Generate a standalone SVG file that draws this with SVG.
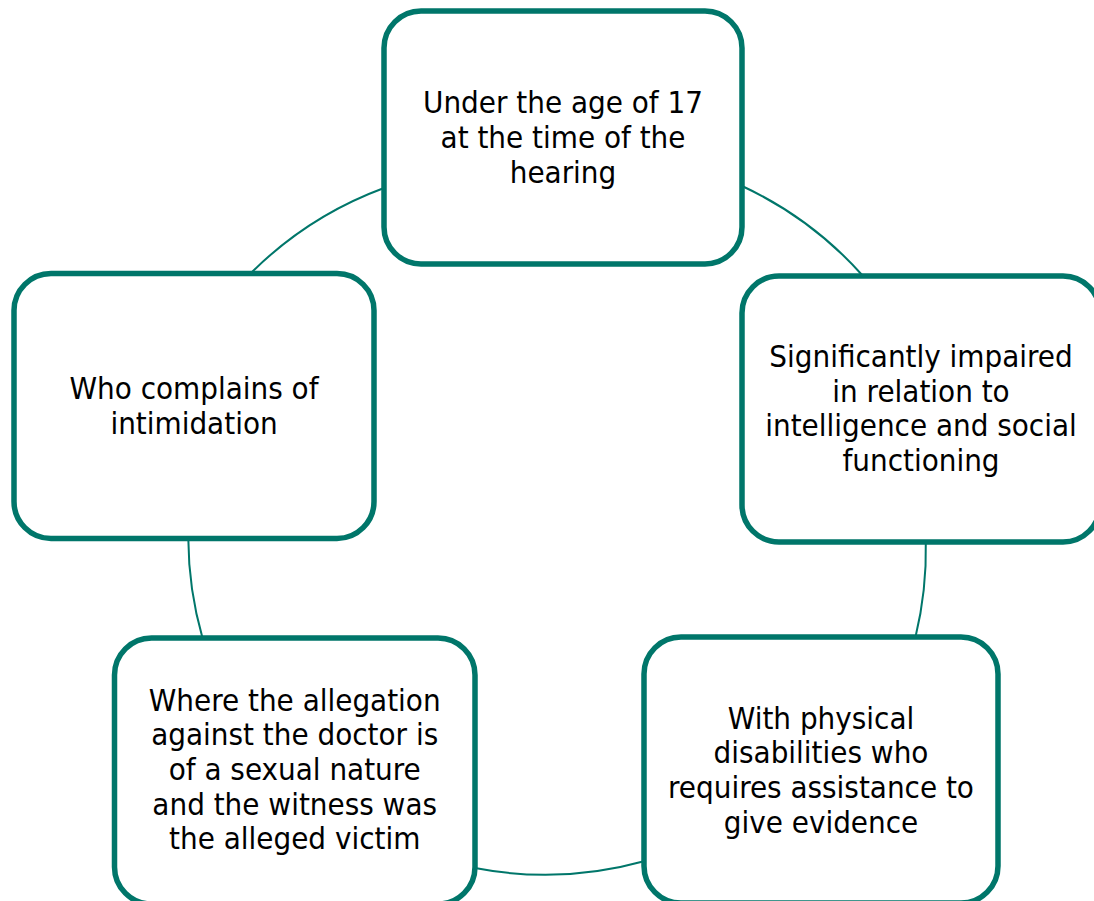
<svg xmlns="http://www.w3.org/2000/svg" width="1094" height="901" viewBox="0 0 1094 901">
<style>
.box{fill:#ffffff;stroke:#00766A;stroke-width:5.5}
.conn{fill:none;stroke:#00766A;stroke-width:2}
.lbl{font-family:"DejaVu Sans Condensed","DejaVu Sans",sans-serif;font-stretch:condensed;font-size:31px;fill:#000000;text-anchor:middle}
</style>
<rect width="1094" height="901" fill="#ffffff"/>
<g id="connectors">
<path class="conn" d="M742,186 A370,370 0 0 1 863,276"/>
<path class="conn" d="M925.8,542 A370,370 0 0 1 915.5,637"/>
<path class="conn" d="M644,861.2 A370,370 0 0 1 475,868"/>
<path class="conn" d="M202.5,638 A370,370 0 0 1 188.3,538.5"/>
<path class="conn" d="M251,273 A370,370 0 0 1 384,188"/>
</g>
<g id="node-top">
<rect class="box" x="384" y="11" width="358" height="253" rx="37"/>
<text class="lbl" x="563" y="113">Under the age of 17</text>
<text class="lbl" x="563" y="148">at the time of the</text>
<text class="lbl" x="563" y="183">hearing</text>
</g>
<g id="node-right">
<rect class="box" x="742" y="276" width="358" height="266" rx="37"/>
<text class="lbl" x="921" y="367">Significantly impaired</text>
<text class="lbl" x="921" y="401.7">in relation to</text>
<text class="lbl" x="921" y="436.3">intelligence and social</text>
<text class="lbl" x="921" y="471">functioning</text>
</g>
<g id="node-bottom-right">
<rect class="box" x="644" y="637" width="354" height="266" rx="37"/>
<text class="lbl" x="821" y="728.5">With physical</text>
<text class="lbl" x="821" y="763.2">disabilities who</text>
<text class="lbl" x="821" y="797.8">requires assistance to</text>
<text class="lbl" x="821" y="832.5">give evidence</text>
</g>
<g id="node-bottom-left">
<rect class="box" x="114.5" y="638" width="360.5" height="266" rx="37"/>
<text class="lbl" x="294.7" y="710.7">Where the allegation</text>
<text class="lbl" x="294.7" y="745.3">against the doctor is</text>
<text class="lbl" x="294.7" y="780">of a sexual nature</text>
<text class="lbl" x="294.7" y="814.6">and the witness was</text>
<text class="lbl" x="294.7" y="849.3">the alleged victim</text>
</g>
<g id="node-left">
<rect class="box" x="14" y="273.5" width="360" height="265" rx="37"/>
<text class="lbl" x="194" y="399.3">Who complains of</text>
<text class="lbl" x="194" y="434">intimidation</text>
</g>
</svg>
